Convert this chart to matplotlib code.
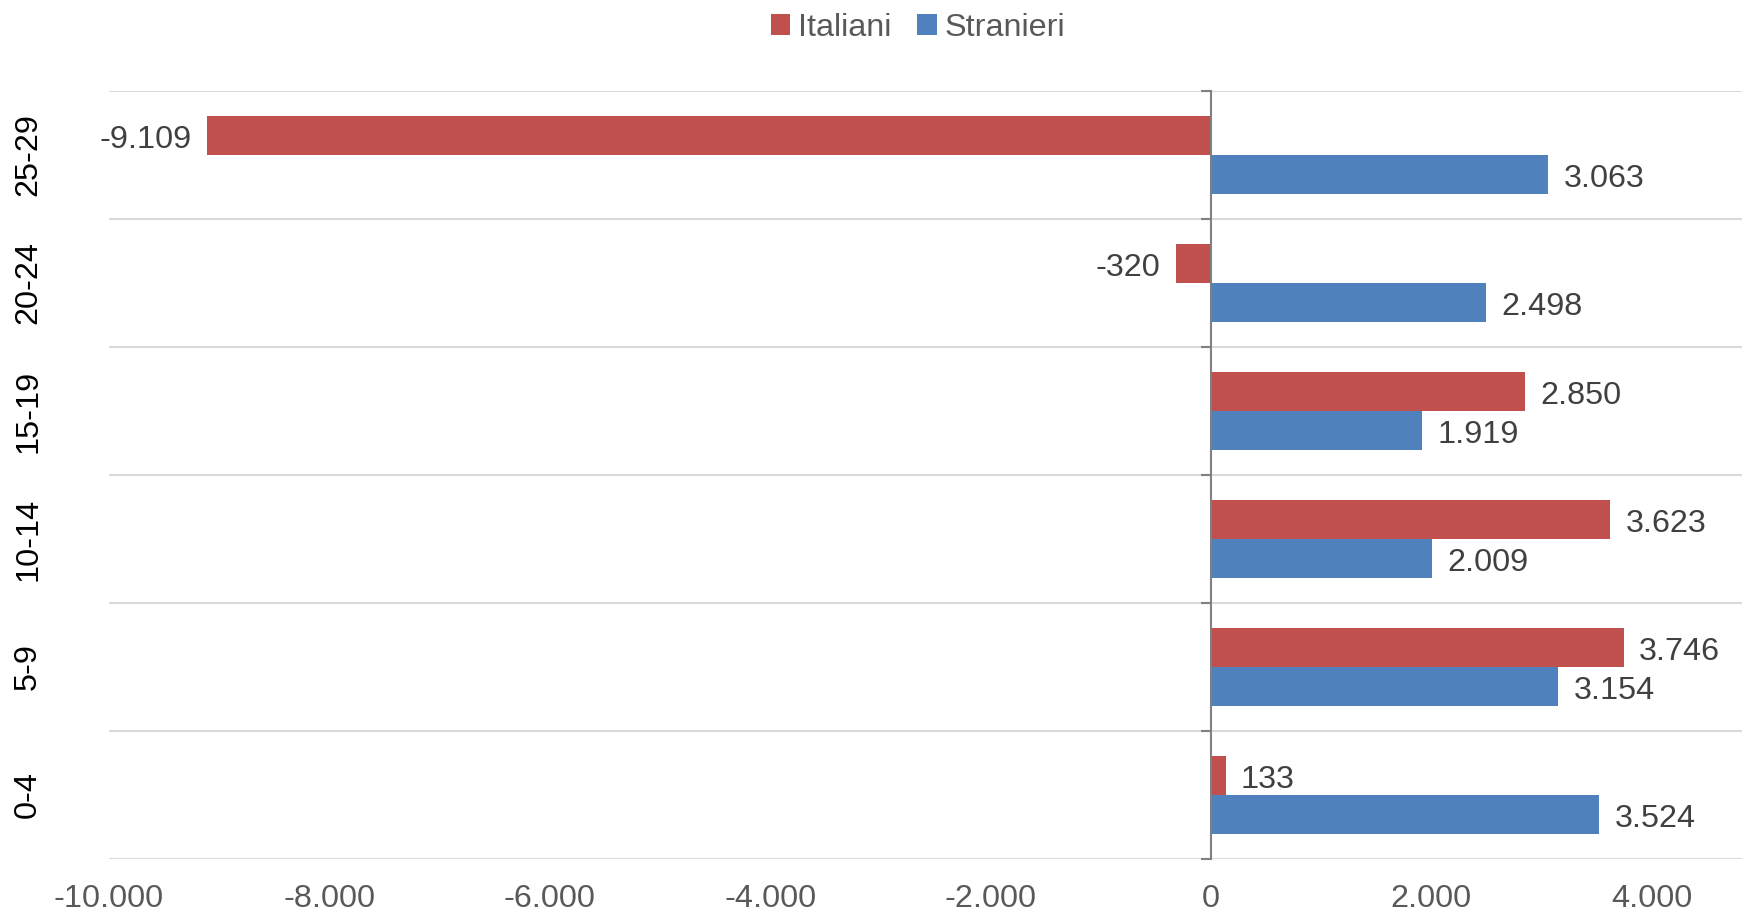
import matplotlib
matplotlib.use("Agg")
import matplotlib.pyplot as plt
import numpy as np

categories = ["0-4", "5-9", "10-14", "15-19", "20-24", "25-29"]
italiani = [133, 3746, 3623, 2850, -320, -9109]
stranieri = [3524, 3154, 2009, 1919, 2498, 3063]
xticks = [-10000, -8000, -6000, -4000, -2000, 0, 2000, 4000]

RED = "#C0504D"
BLUE = "#4F81BD"
FS = 23.3
plt.rcParams['font.family'] = ['Liberation Sans', 'DejaVu Sans']

def fmt(v):
    return f"{v:,}".replace(",", ".")

fig = plt.figure(figsize=(17.42, 9.11), dpi=100)
ax = fig.add_axes([109/1742, 1-859/911, 1-109/1742, (859-91)/911])

y = np.arange(len(categories))
h = 0.305
ax.barh(y + h/2, italiani, height=h, color=RED, label="Italiani", zorder=3)
ax.barh(y - h/2, stranieri, height=h, color=BLUE, label="Stranieri", zorder=3)

ax.set_xlim(-10000, 4820)
ax.set_ylim(-0.5, len(categories) - 0.5)

for yi, v in zip(y, italiani):
    ax.annotate(fmt(v), xy=(v, yi + h/2), xytext=(11 if v >= 0 else -11, -3),
                textcoords="offset points", va="center",
                ha="left" if v >= 0 else "right", fontsize=FS, color="#404040")
for yi, v in zip(y, stranieri):
    ax.annotate(fmt(v), xy=(v, yi - h/2), xytext=(11 if v >= 0 else -11, -3),
                textcoords="offset points", va="center",
                ha="left" if v >= 0 else "right", fontsize=FS, color="#404040")

# gridlines at category boundaries
for b in np.arange(-0.5, len(categories), 1.0):
    ax.axhline(b, color="#D9D9D9", lw=1.5, zorder=1)

for s in ["top", "right", "bottom"]:
    ax.spines[s].set_visible(False)
ax.spines["left"].set_position(("data", 0))
ax.spines["left"].set_color("#808080")
ax.spines["left"].set_linewidth(1.5)
ax.spines["left"].set_zorder(4)
ax.set_yticks(np.arange(-0.5, len(categories), 1.0))
ax.set_yticklabels([])
ax.tick_params(axis="y", direction="out", length=7, color="#808080", width=1.5)

for yi, c in zip(y, categories):
    ax.annotate(c, xy=(0, yi), xycoords=("axes fraction", "data"),
                xytext=(-81*0.72, 0), textcoords="offset points",
                rotation=90, ha="center", va="center", fontsize=FS, color="#000000")

ax.set_xticks(xticks)
ax.set_xticklabels([fmt(t) for t in xticks], fontsize=FS, color="#595959")
ax.tick_params(axis="x", length=0, pad=18)

fig.legend(loc="upper center", bbox_to_anchor=(918/1742, 1.018), ncol=2, frameon=False,
           fontsize=FS, handlelength=0.6, handleheight=0.6, handletextpad=0.25,
           columnspacing=0.8, labelcolor="#595959")

fig.savefig("out.png", dpi=100)
